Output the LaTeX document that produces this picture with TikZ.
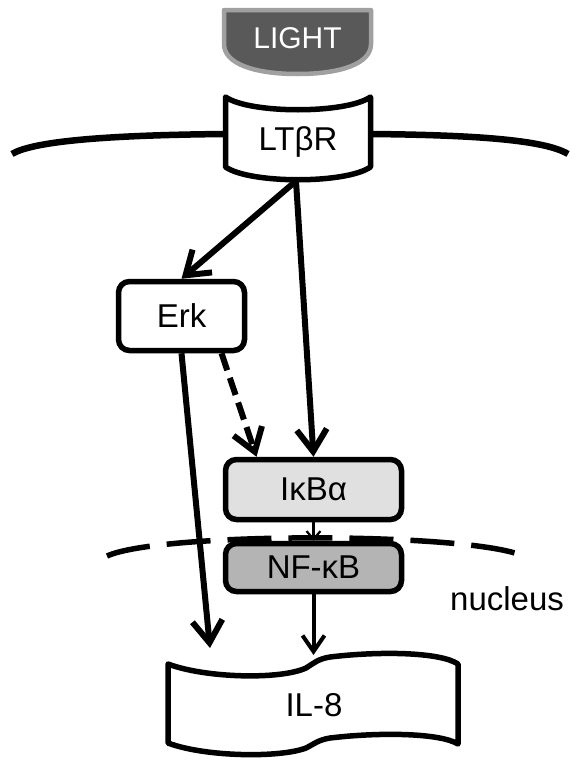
\documentclass[tikz,border=0pt]{standalone}
\usepackage{fontspec}
\setmainfont{Liberation Sans}
\usepackage{tikz}
\usetikzlibrary{arrows.meta,positioning,calc}
\definecolor{lightfill}{HTML}{595959}
\definecolor{lightrim}{HTML}{A0A0A0}
\definecolor{ikbfill}{HTML}{E0E0E0}
\definecolor{nfkbfill}{HTML}{B4B4B4}

\begin{document}
\begin{tikzpicture}[x=1pt, y=-1pt,
  every node/.style={inner sep=0pt, text depth=0pt, font=\fontsize{33}{36}\selectfont},
  protein/.style={draw, line width=5.5pt, rounded corners=11pt},
  shapeline/.style={line width=5.5pt, line join=round},
  sigarrow/.style={line width=6pt, -{Straight Barb[length=22pt,width=30pt]}},
  smallarrow/.style={line width=4pt, -{Straight Barb[length=16pt,width=22pt]}},
  tinyarrow/.style={line width=2.2pt, -{Straight Barb[length=8pt,width=14pt]}}
]
  \useasboundingbox (0,0) rectangle (576,763);

  % Ligand on top
  \draw[line width=4.5pt, draw=lightrim, fill=lightfill, line join=round]
    (224,10) -- (371,10) -- (371,44) .. controls (371,64) and (340,74) .. (297.5,74)
    .. controls (255,74) and (224,64) .. (224,44) -- cycle;
  \node[text=white, font=\fontsize{30}{33}\selectfont] (light) at (297.5,38) {LIGHT};

  % Cell membrane
  \draw[shapeline, line width=6.5pt] (12,154) .. controls (35,140) and (120,135) .. (225,134);
  \draw[shapeline, line width=6.5pt] (371,134) .. controls (476,135) and (545,140) .. (568,154);

  % Receptor
  \draw[shapeline, fill=white] (225.5,97) -- (225.5,167)
    .. controls (250,184) and (346,184) .. (370.5,167) -- (370.5,97)
    .. controls (346,114) and (250,114) .. (225.5,97) -- cycle;
  \node (ltbr) at (298,139) {LTβR};
  \coordinate (ltbrfoot) at (296,181);

  % Kinase and complex
  \node[protein, fill=white, minimum width=126pt, minimum height=69pt]
    (erk) at (181.5,316) {Erk};
  \node[protein, fill=ikbfill, minimum width=176pt, minimum height=60pt]
    (ikba) at (313.5,489.5) {IκBα};
  \node[protein, fill=nfkbfill, minimum width=176pt, minimum height=48pt]
    (nfkb) at (313.5,567.5) {NF-κB};

  % Nuclear envelope
  \draw[line width=5.5pt, dash pattern=on 44pt off 17pt]
    (107,556) .. controls (160,532) and (460,532) .. (521,555);
  \node[anchor=base west] (nucleus) at (450,610) {nucleus};

  % Gene
  \draw[shapeline, fill=white] (168,664) .. controls (205,678) and (280,680) .. (306,668)
    .. controls (314,663) and (318,659) .. (330,657)
    .. controls (380,651) and (440,652) .. (458,664) -- (458,744)
    .. controls (440,733) and (380,732) .. (330,738)
    .. controls (318,740) and (314,744) .. (306,748)
    .. controls (280,758) and (205,757) .. (168,743) -- cycle;
  \node (il8) at (314,705) {IL-8};
  \coordinate (il8erk) at (210,648);
  \coordinate (il8nfkb) at (313.5,655);

  % Signalling arrows
  \draw[sigarrow] (ltbrfoot) -- (erk.north);
  \draw[sigarrow] (ltbrfoot) -- (ikba.north);
  \draw[sigarrow, dash pattern=on 18pt off 8pt] ([xshift=40pt]erk.south) -- ([xshift=-57pt]ikba.north);
  \draw[sigarrow] (erk.south) -- (il8erk);
  \draw[tinyarrow] (ikba.south) -- (nfkb.north);
  \draw[smallarrow] (nfkb.south) -- (il8nfkb);

\end{tikzpicture}
\end{document}
